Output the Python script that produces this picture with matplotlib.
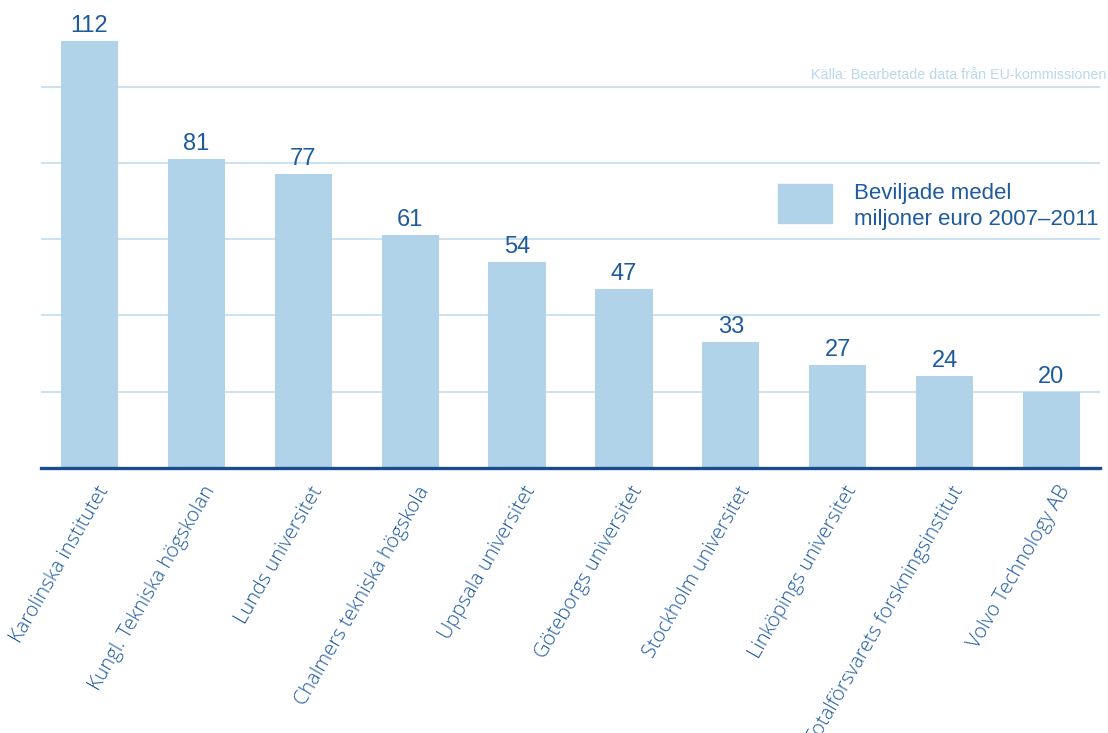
import matplotlib.pyplot as plt
import matplotlib.transforms as mtransforms
from matplotlib.patches import Rectangle
import numpy as np

names = ["Karolinska institutet", "Kungl. Tekniska högskolan", "Lunds universitet",
         "Chalmers tekniska högskola", "Uppsala universitet", "Göteborgs universitet",
         "Stockholm universitet", "Linköpings universitet",
         "Totalförsvarets forskningsinstitut", "Volvo Technology AB"]
values = [112, 81, 77, 61, 54, 47, 33, 27, 24, 20]
grid_levels = [20, 40, 60, 80, 100]
legend_lines = ['Beviljade medel', 'miljoner euro 2007–2011']

bar_color = '#b1d3ea'
text_blue = '#1d5b9e'
base_blue = '#1a4d8f'
grid_color = '#c3ddef'

W, H = 1108, 733
fig = plt.figure(figsize=(W / 100, H / 100), dpi=100)
ax = fig.add_axes([40.7 / W, 1 - 468 / H, (1100 - 40.7) / W, 468 / H])

x = np.arange(len(values))
bars = ax.bar(x, values, width=0.535, color=bar_color, zorder=2)
ax.set_xlim(-0.457, len(values) - 1 + 0.454)
ax.set_ylim(0, 122.7)

# gridlines + baseline
ax.set_yticks(grid_levels)
ax.yaxis.grid(True, color=grid_color, linewidth=1.2)
ax.set_axisbelow(True)
ax.axhline(0, color=base_blue, linewidth=2.4, zorder=3, clip_on=False)
for s in ax.spines.values():
    s.set_visible(False)
ax.tick_params(axis='y', left=False, labelleft=False)
ax.tick_params(axis='x', bottom=False, pad=7)

ax.set_xticks(x)
ax.set_xticklabels(names, rotation=60, ha='right', va='top', rotation_mode='anchor',
                   fontsize=14.5, fontweight='light', color='#1a58a0',
                   family=['Open Sans', 'DejaVu Sans'])
shift = mtransforms.ScaledTranslation(6 / 100, 0, fig.dpi_scale_trans)
for lab in ax.get_xticklabels():
    lab.set_transform(lab.get_transform() + shift)

for xi, v in zip(x, values):
    ax.annotate(str(v), (xi, v), xytext=(0, 6.5), textcoords='offset points',
                ha='center', va='baseline', fontsize=17, color=text_blue,
                family=['Liberation Sans', 'DejaVu Sans'])

# legend drawn by hand: swatch + two text lines
fig.patches.append(Rectangle((778 / W, 1 - 223 / H), 54 / W, 39 / H,
                             transform=fig.transFigure, color=bar_color))
fig.text(854 / W, 1 - 199 / H, legend_lines[0], fontsize=16, color=text_blue,
         va='baseline', family=['Liberation Sans', 'DejaVu Sans'])
fig.text(854 / W, 1 - 225 / H, legend_lines[1], fontsize=16, color=text_blue,
         va='baseline', family=['Liberation Sans', 'DejaVu Sans'])

fig.text(811 / W, 1 - 79 / H, 'Källa: Bearbetade data från EU-kommissionen',
         fontsize=10.3, color='#bad8ee', ha='left', va='baseline',
         family=['Liberation Sans Narrow', 'Liberation Sans', 'DejaVu Sans'])

fig.savefig('out.png', dpi=100)
